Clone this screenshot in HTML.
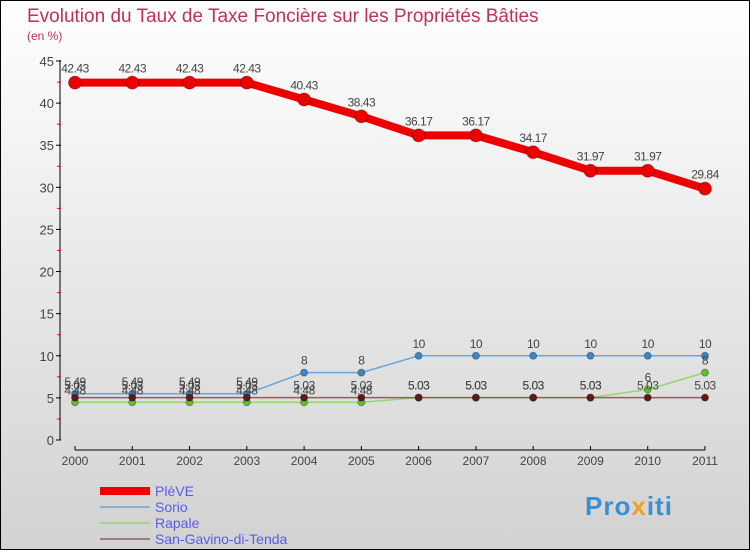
<!DOCTYPE html>
<html><head><meta charset="utf-8"><style>
body{margin:0}
#c{width:750px;height:550px;position:relative;overflow:hidden;font-family:"Liberation Sans",sans-serif}
</style></head><body>
<div id="c">
<svg id="s" width="750" height="550" xmlns="http://www.w3.org/2000/svg" font-family="Liberation Sans, sans-serif">
<defs><linearGradient id="bg" x1="0" y1="0" x2="0" y2="1"><stop offset="0" stop-color="#ffffff"/><stop offset="1" stop-color="#d2d2d2"/></linearGradient></defs>
<rect x="0.5" y="0.5" width="749" height="549" fill="url(#bg)" stroke="#000"/>
<text x="27" y="22" font-size="19" fill="#c0305a">Evolution du Taux de Taxe Foncière sur les Propriétés Bâties</text>
<text x="27" y="40" font-size="12" fill="#c0305a">(en %)</text>
<g id="axes"></g><g id="marks"></g><g id="legend"></g>
<g>
<text x="585" y="515" font-size="26" font-weight="bold" fill="#3a8fd0" letter-spacing="1">Pro<tspan fill="#f0a020">x</tspan><tspan fill="#3a8fd0">iti</tspan></text>
</g>
</svg>
</div>
<script>
const years=[2000,2001,2002,2003,2004,2005,2006,2007,2008,2009,2010,2011];
const pleve=[42.43,42.43,42.43,42.43,40.43,38.43,36.17,36.17,34.17,31.97,31.97,29.84];
const sorio=[5.49,5.49,5.49,5.49,8,8,10,10,10,10,10,10];
const rapale=[4.48,4.48,4.48,4.48,4.48,4.48,5.03,5.03,5.03,5.03,6,8];
const gavino=[5.03,5.03,5.03,5.03,5.03,5.03,5.03,5.03,5.03,5.03,5.03,5.03];
const yTicks=[0,5,10,15,20,25,30,35,40,45];
const NS="http://www.w3.org/2000/svg";
const X=i=>75+i*(630/11);
const Y=v=>440-v*(379/45);
function mk(t,a,p){const e=document.createElementNS(NS,t);for(const k in a)e.setAttribute(k,a[k]);p.appendChild(e);return e;}
const ax=document.getElementById('axes');
let l=mk('line',{x1:60,y1:60,x2:60,y2:440,stroke:'#000'},ax);

l=mk('line',{x1:75,y1:450,x2:705,y2:450,stroke:'#000'},ax);

yTicks.forEach(v=>{
 mk('line',{x1:56,y1:Y(v),x2:61,y2:Y(v),stroke:'#000'},ax);
 if(v<45) mk('line',{x1:57,y1:Y(v+2.5),x2:61,y2:Y(v+2.5),stroke:'#e00'},ax);
 const t=mk('text',{x:54,y:Y(v)+5,'text-anchor':'end','font-size':13,fill:'#444'},ax);t.textContent=v;
 
});
years.forEach((y,i)=>{
 mk('line',{x1:X(i),y1:446,x2:X(i),y2:450,stroke:'#000'},ax);
 const t=mk('text',{x:X(i),y:465,'text-anchor':'middle','font-size':12,fill:'#444'},ax);t.textContent=y;
 
});
const series=[
 {n:'PlèVE',d:pleve,c:'#ee0000',w:8,r:6.5},
 {n:'Sorio',d:sorio,c:'#6aa8d8',w:1.5,r:3.5,dot:'#3a88c8'},
 {n:'Rapale',d:rapale,c:'#90d870',w:1.5,r:3.5,dot:'#60c030'},
 {n:'San-Gavino-di-Tenda',d:gavino,c:'#906060',w:1.5,r:3.5,dot:'#601818'}
];
const drawOrder=[1,2,3,0];
const mg=document.getElementById('marks');
drawOrder.forEach(k=>{
 const s=series[k];
 const g=mk('g',{},mg);
 
 const p=mk('polyline',{points:s.d.map((v,i)=>X(i)+','+Y(v)).join(' '),fill:'none',stroke:s.c,'stroke-width':s.w,'stroke-linejoin':'round'},g);
 
 s.d.forEach((v,i)=>{
  const c=mk('circle',{cx:X(i),cy:Y(v),r:s.r,fill:s.dot||s.c,stroke:'rgba(0,0,0,0.3)'},g);
  
  const t=mk('text',{x:X(i),y:Y(v)-(s.w>4?10:8),'text-anchor':'middle','font-size':12,fill:'#444','letter-spacing':'-0.5'},g);
  t.textContent=v;
  
 });
});
const lg=document.getElementById('legend');
series.forEach((s,i)=>{
 const y=491+i*16;
 const g=mk('g',{},lg);
 
 mk('line',{x1:100,y1:y,x2:150,y2:y,stroke:s.c,'stroke-width':s.w},g);
 const t=mk('text',{x:155,y:y+5,'font-size':14,fill:'#5a5af0'},g);t.textContent=s.n;
});
</script>
</body></html>
